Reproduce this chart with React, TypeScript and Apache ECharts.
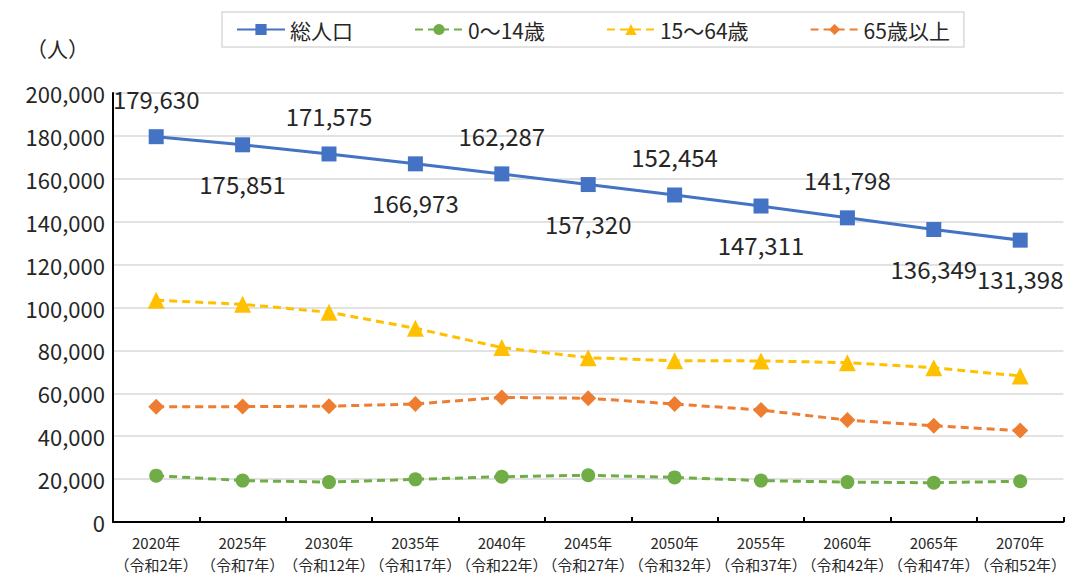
import React, { useEffect, useRef } from "react";
import * as echarts from "echarts";

const years = ["2020年", "2025年", "2030年", "2035年", "2040年", "2045年", "2050年", "2055年", "2060年", "2065年", "2070年"];
const reiwa = ["（令和2年）", "（令和7年）", "（令和12年）", "（令和17年）", "（令和22年）", "（令和27年）", "（令和32年）", "（令和37年）", "（令和42年）", "（令和47年）", "（令和52年）"];

const total = [179630, 175851, 171575, 166973, 162287, 157320, 152454, 147311, 141798, 136349, 131398];
const age0to14 = [21600, 19300, 18600, 19900, 21100, 21800, 20800, 19300, 18600, 18300, 19000];
const age15to64 = [103400, 101500, 97800, 90300, 81300, 76600, 75200, 75100, 74300, 71900, 68100];
const age65plus = [53700, 53800, 54000, 55000, 58100, 57700, 55000, 52200, 47500, 44900, 42600];
const totalLabelSide = ["top", "bottom", "top", "bottom", "top", "bottom", "top", "bottom", "top", "bottom", "bottom"];

const seriesNames = ["総人口", "0〜14歳", "15〜64歳", "65歳以上"];
const unitLabel = "（人）";

const FONT = "'Noto Sans CJK JP', 'Noto Sans', sans-serif";
const fmt = (v: number) => v.toLocaleString("en-US");

export default function App() {
  const ref = useRef<HTMLDivElement>(null);
  useEffect(() => {
    if (!ref.current) return;
    const chart = echarts.init(ref.current, undefined, { renderer: "svg" });
    const categories = years.map((y, i) => `${y}\n${reiwa[i]}`);
    chart.setOption({
      animation: false,
      backgroundColor: "#ffffff",
      textStyle: { fontFamily: FONT },
      graphic: [
        {
          type: "text",
          left: 26,
          top: 37,
          style: { text: unitLabel, font: `21px ${FONT}`, fill: "#262626" },
        },
      ],
      legend: {
        data: seriesNames,
        left: 222,
        top: 12,
        padding: [7, 14, 7, 14],
        borderColor: "#d9d9d9",
        borderWidth: 1.5,
        itemWidth: 48,
        itemHeight: 14,
        itemGap: 61,
        textStyle: { fontSize: 21, color: "#262626", fontFamily: FONT },
      },
      grid: { left: 113, right: 5, top: 93, bottom: 57 },
      xAxis: {
        type: "category",
        data: categories,
        boundaryGap: true,
        axisLine: { lineStyle: { color: "#000000", width: 2 } },
        axisTick: { show: true, inside: true, length: 5, interval: 0, lineStyle: { color: "#000", width: 2 } },
        axisLabel: {
          interval: 0,
          fontSize: 15,
          lineHeight: 22,
          margin: 9,
          color: "#262626",
          fontFamily: FONT,
        },
      },
      yAxis: {
        type: "value",
        min: 0,
        max: 200000,
        interval: 20000,
        axisLine: { show: true, lineStyle: { color: "#000000", width: 2 } },
        axisTick: { show: false },
        splitLine: { lineStyle: { color: "#d9d9d9", width: 1.5 } },
        axisLabel: {
          formatter: (v: number) => fmt(v),
          fontSize: 22,
          margin: 8,
          color: "#262626",
          fontFamily: FONT,
        },
      },
      series: [
        {
          name: seriesNames[0],
          type: "line",
          data: total.map((v, i) => ({
            value: v,
            label: { position: totalLabelSide[i] },
          })),
          symbol: "rect",
          symbolSize: 15,
          itemStyle: { color: "#4472c4" },
          lineStyle: { color: "#4472c4", width: 3 },
          label: {
            show: true,
            formatter: (p: any) => fmt(p.value),
            fontSize: 24,
            distance: 19,
            color: "#262626",
            fontFamily: FONT,
          },
          z: 5,
        },
        {
          name: seriesNames[1],
          type: "line",
          data: age0to14,
          symbol: "circle",
          symbolSize: 14,
          itemStyle: { color: "#70ad47" },
          lineStyle: { color: "#70ad47", width: 3, type: [8, 5] },
        },
        {
          name: seriesNames[2],
          type: "line",
          data: age15to64,
          symbol: "triangle",
          symbolSize: 17,
          itemStyle: { color: "#ffc000" },
          lineStyle: { color: "#ffc000", width: 3, type: [8, 5] },
        },
        {
          name: seriesNames[3],
          type: "line",
          data: age65plus,
          symbol: "diamond",
          symbolSize: 16,
          itemStyle: { color: "#ed7d31" },
          lineStyle: { color: "#ed7d31", width: 3, type: [8, 5] },
        },
      ],
    });
    return () => chart.dispose();
  }, []);
  return (
    <div
      ref={ref}
      style={{ position: "fixed", left: 0, top: 0, width: 1069, height: 579 }}
    />
  );
}
